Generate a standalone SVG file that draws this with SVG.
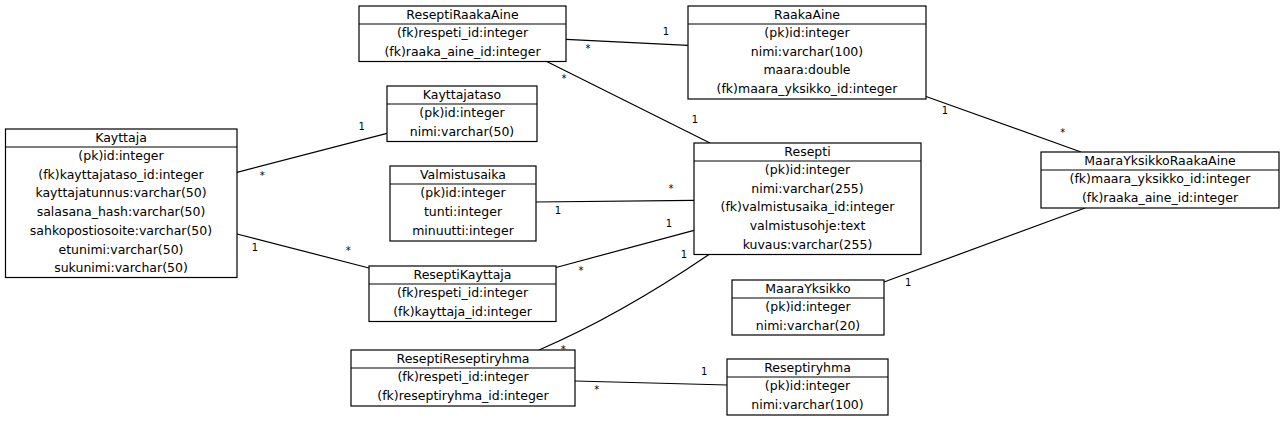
<svg xmlns="http://www.w3.org/2000/svg" width="1285" height="421" viewBox="0 0 1285 421">
<style>
.box{fill:#fff;stroke:#000;stroke-width:1.2}
.sep{stroke:#000;stroke-width:1.2}
.t{font-family:"DejaVu Sans",sans-serif;font-size:12.5px;fill:#000;text-anchor:middle}
.c{fill:none;stroke:#000;stroke-width:1.2}
.l{font-family:"DejaVu Sans",sans-serif;font-size:10px;fill:#000;text-anchor:middle}
</style>
<rect width="1285" height="421" fill="#fff"/>
<g id="connectors">
<line class="c" x1="237" y1="172.3" x2="387" y2="133.3"/>
<line class="c" x1="237" y1="234" x2="369" y2="268"/>
<line class="c" x1="566" y1="39.3" x2="688" y2="45.3"/>
<line class="c" x1="546.7" y1="61.5" x2="710" y2="143"/>
<line class="c" x1="926" y1="96.5" x2="1081" y2="152"/>
<line class="c" x1="536" y1="202" x2="694" y2="200.3"/>
<line class="c" x1="556" y1="267.5" x2="694" y2="230.3"/>
<path class="c" d="M539,350 Q620,315 709,254.5"/>
<line class="c" x1="884" y1="282" x2="1085" y2="208"/>
<line class="c" x1="575" y1="381" x2="727" y2="385"/>
<text class="l" x="361.7" y="130.3">1</text>
<text class="l" x="262.3" y="179">*</text>
<text class="l" x="255" y="251.3">1</text>
<text class="l" x="348.3" y="254">*</text>
<text class="l" x="666" y="35.3">1</text>
<text class="l" x="588" y="51.8">*</text>
<text class="l" x="564" y="81.8">*</text>
<text class="l" x="695" y="123">1</text>
<text class="l" x="945" y="114.3">1</text>
<text class="l" x="1062.7" y="135.8">*</text>
<text class="l" x="558" y="214.3">1</text>
<text class="l" x="671" y="191.5">*</text>
<text class="l" x="669" y="226.6">1</text>
<text class="l" x="581" y="274">*</text>
<text class="l" x="684" y="258">1</text>
<text class="l" x="563.3" y="352.5">*</text>
<text class="l" x="908.3" y="286.3">1</text>
<text class="l" x="1061" y="207.5">*</text>
<text class="l" x="704.3" y="375.3">1</text>
<text class="l" x="596.7" y="392.5">*</text>
</g>
<g id="Kayttaja">
<rect class="box" x="5.5" y="129" width="231.5" height="148.5"/>
<line class="sep" x1="5.5" y1="147" x2="237" y2="147"/>
<text class="t" x="121" y="142">Kayttaja</text>
<text class="t" x="121" y="160">(pk)id:integer</text>
<text class="t" x="121" y="178.7">(fk)kayttajataso_id:integer</text>
<text class="t" x="121" y="197.4">kayttajatunnus:varchar(50)</text>
<text class="t" x="121" y="216.1">salasana_hash:varchar(50)</text>
<text class="t" x="121" y="234.8">sahkopostiosoite:varchar(50)</text>
<text class="t" x="121" y="253.5">etunimi:varchar(50)</text>
<text class="t" x="121" y="272.2">sukunimi:varchar(50)</text>
</g>
<g id="ReseptiRaakaAine">
<rect class="box" x="359" y="6" width="207" height="55.5"/>
<line class="sep" x1="359" y1="24" x2="566" y2="24"/>
<text class="t" x="462.5" y="19">ReseptiRaakaAine</text>
<text class="t" x="462.5" y="37">(fk)respeti_id:integer</text>
<text class="t" x="462.5" y="55.7">(fk)raaka_aine_id:integer</text>
</g>
<g id="RaakaAine">
<rect class="box" x="688" y="6" width="238" height="93"/>
<line class="sep" x1="688" y1="24" x2="926" y2="24"/>
<text class="t" x="807" y="19">RaakaAine</text>
<text class="t" x="807" y="37">(pk)id:integer</text>
<text class="t" x="807" y="55.7">nimi:varchar(100)</text>
<text class="t" x="807" y="74.4">maara:double</text>
<text class="t" x="807" y="93.1">(fk)maara_yksikko_id:integer</text>
</g>
<g id="Kayttajataso">
<rect class="box" x="387" y="86" width="150" height="55.5"/>
<line class="sep" x1="387" y1="104" x2="537" y2="104"/>
<text class="t" x="462" y="99">Kayttajataso</text>
<text class="t" x="462" y="117">(pk)id:integer</text>
<text class="t" x="462" y="135.7">nimi:varchar(50)</text>
</g>
<g id="Resepti">
<rect class="box" x="694" y="143" width="227" height="111.5"/>
<line class="sep" x1="694" y1="161" x2="921" y2="161"/>
<text class="t" x="807.5" y="156">Resepti</text>
<text class="t" x="807.5" y="174">(pk)id:integer</text>
<text class="t" x="807.5" y="192.7">nimi:varchar(255)</text>
<text class="t" x="807.5" y="211.4">(fk)valmistusaika_id:integer</text>
<text class="t" x="807.5" y="230.1">valmistusohje:text</text>
<text class="t" x="807.5" y="248.8">kuvaus:varchar(255)</text>
</g>
<g id="Valmistusaika">
<rect class="box" x="390" y="166" width="146" height="75"/>
<line class="sep" x1="390" y1="184" x2="536" y2="184"/>
<text class="t" x="463" y="179">Valmistusaika</text>
<text class="t" x="463" y="197">(pk)id:integer</text>
<text class="t" x="463" y="216">tunti:integer</text>
<text class="t" x="463" y="235">minuutti:integer</text>
</g>
<g id="MaaraYksikkoRaakaAine">
<rect class="box" x="1041" y="152" width="238" height="56"/>
<line class="sep" x1="1041" y1="170" x2="1279" y2="170"/>
<text class="t" x="1160" y="165">MaaraYksikkoRaakaAine</text>
<text class="t" x="1160" y="183">(fk)maara_yksikko_id:integer</text>
<text class="t" x="1160" y="201.7">(fk)raaka_aine_id:integer</text>
</g>
<g id="ReseptiKayttaja">
<rect class="box" x="369" y="266" width="187" height="55.5"/>
<line class="sep" x1="369" y1="284" x2="556" y2="284"/>
<text class="t" x="462.5" y="279">ReseptiKayttaja</text>
<text class="t" x="462.5" y="297">(fk)respeti_id:integer</text>
<text class="t" x="462.5" y="315.7">(fk)kayttaja_id:integer</text>
</g>
<g id="MaaraYksikko">
<rect class="box" x="732" y="280" width="152" height="55"/>
<line class="sep" x1="732" y1="298" x2="884" y2="298"/>
<text class="t" x="808" y="293">MaaraYksikko</text>
<text class="t" x="808" y="311">(pk)id:integer</text>
<text class="t" x="808" y="329.7">nimi:varchar(20)</text>
</g>
<g id="ReseptiReseptiryhma">
<rect class="box" x="351" y="350" width="224" height="56"/>
<line class="sep" x1="351" y1="368" x2="575" y2="368"/>
<text class="t" x="463" y="363">ReseptiReseptiryhma</text>
<text class="t" x="463" y="381">(fk)respeti_id:integer</text>
<text class="t" x="463" y="399.7">(fk)reseptiryhma_id:integer</text>
</g>
<g id="Reseptiryhma">
<rect class="box" x="727" y="359" width="161" height="56"/>
<line class="sep" x1="727" y1="377" x2="888" y2="377"/>
<text class="t" x="807.5" y="372">Reseptiryhma</text>
<text class="t" x="807.5" y="390">(pk)id:integer</text>
<text class="t" x="807.5" y="408.7">nimi:varchar(100)</text>
</g>
</svg>
